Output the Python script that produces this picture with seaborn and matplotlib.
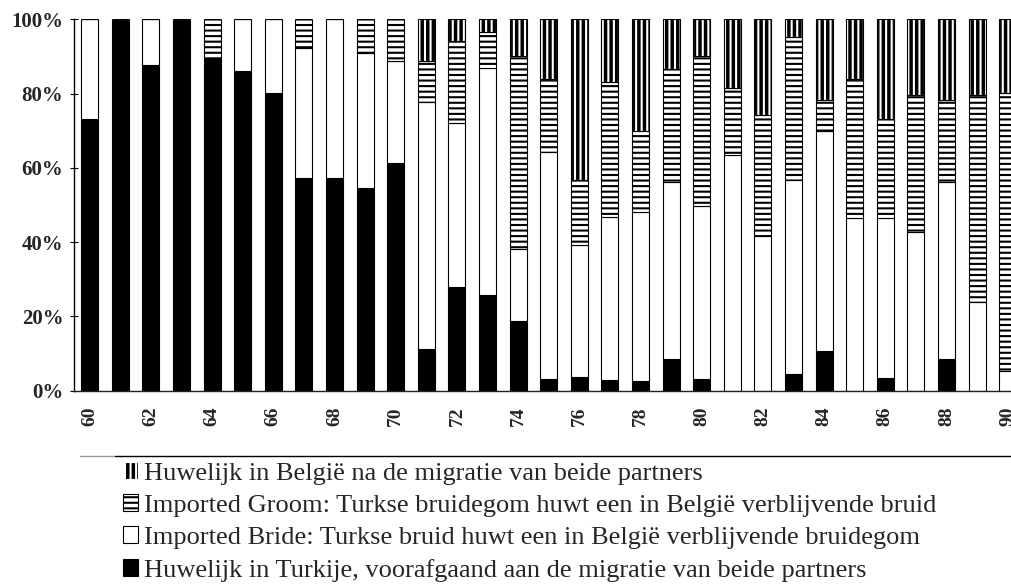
import matplotlib
matplotlib.use("Agg")
import matplotlib.pyplot as plt
from matplotlib.lines import Line2D
from matplotlib.ticker import FixedLocator, PercentFormatter
import numpy as np
import pandas as pd
import seaborn as sns

# aandeel (%) per huwelijkstype, 1960-1990
years = list(range(1960, 1991))
turkey = [73.2, 100, 87.6, 100, 89.7, 86.1, 80.2, 57.2, 57.2, 54.7, 61.3,
          11.2, 27.9, 25.9, 18.9, 3.2, 3.6, 3.0, 2.7, 8.6, 3.2,
          0, 0, 4.5, 10.8, 0, 3.3, 0, 8.6, 0, 0]
bride = [26.8, 0, 12.4, 0, 0, 13.9, 19.8, 35.0, 42.8, 36.1, 27.6,
         66.5, 44.3, 60.9, 19.2, 61.2, 35.5, 43.8, 45.5, 47.5, 46.4,
         63.5, 41.7, 52.3, 59.1, 46.5, 43.2, 42.7, 47.5, 24.0, 5.4]
groom = [0, 0, 0, 0, 10.3, 0, 0, 7.8, 0, 9.2, 11.1,
         11.1, 22.0, 9.9, 52.0, 19.4, 17.7, 36.2, 21.8, 30.4, 40.6,
         18.1, 32.4, 38.3, 8.4, 37.4, 26.6, 36.8, 22.2, 55.6, 74.8]
belgium = [0, 0, 0, 0, 0, 0, 0, 0, 0, 0, 0,
           11.2, 5.8, 3.3, 9.9, 16.2, 43.2, 17.0, 30.0, 13.5, 9.8,
           18.4, 25.9, 4.9, 21.7, 16.1, 26.9, 20.5, 21.7, 20.4, 19.8]

labels = [
    "Huwelijk in België na de migratie van beide partners",
    "Imported Groom: Turkse bruidegom huwt een in België verblijvende bruid",
    "Imported Bride: Turkse bruid huwt een in België verblijvende bruidegom",
    "Huwelijk in Turkije, voorafgaand aan de migratie van beide partners",
]

sns.set_style("white")
plt.rcParams["font.family"] = ["Liberation Serif", "DejaVu Serif"]
plt.rcParams["hatch.linewidth"] = 1.5

df = pd.DataFrame({
    "jaar": [str(y)[2:] for y in years],
    "turkey": turkey,
    "bride": bride,
    "groom": groom,
    "belgium": belgium,
})

W, H = 1011, 586
fig = plt.figure(figsize=(W / 100, H / 100), dpi=100)
ax = fig.add_axes([74.4 / W, 1 - 390.7 / H, 948.6 / W, 371.4 / H])

layers = [
    ("turkey", "black", "black", None),
    ("bride", "white", "black", None),
    ("groom", "white", "black", "---"),
    ("belgium", "black", "white", "|||"),
]
handles = []
bottom = np.zeros(len(years))
for col, face, edge, hatch in layers:
    sns.barplot(data=df, x="jaar", y=col, bottom=bottom, color=face,
                edgecolor=edge, hatch=hatch, linewidth=0.8, width=0.55,
                saturation=1, errorbar=None, ax=ax)
    handles.append(ax.containers[-1])
    if col == "belgium":
        # zwarte omlijning over de gearceerde stukken
        sns.barplot(data=df, x="jaar", y=col, bottom=bottom, color="black",
                    fill=False, linewidth=0.8, width=0.55, errorbar=None, ax=ax)
    bottom = bottom + df[col].to_numpy()

ax.set_xlabel("")
ax.set_ylabel("")
ax.set_ylim(0, 100)
ax.set_yticks(range(0, 101, 20))
ax.yaxis.set_major_formatter(PercentFormatter(100, decimals=0))

ax.set_xticks(range(0, len(years), 2))
ax.set_xticklabels(df["jaar"][::2], rotation=90)
ax.xaxis.set_minor_locator(FixedLocator(np.arange(-0.5, len(years), 1)))
ax.tick_params(axis="x", which="major", length=0, pad=11.5,
               labelsize=14)
ax.tick_params(axis="x", which="minor", direction="inout", length=7,
               width=0.8, color="black")
ax.tick_params(axis="y", direction="inout", length=6, width=0.8, pad=5,
               labelsize=15, color="black", left=True)
for lab in ax.get_xticklabels() + ax.get_yticklabels():
    lab.set_fontweight("bold")

sns.despine(ax=ax)
ax.spines["left"].set_color("black")
ax.spines["left"].set_linewidth(1)
ax.spines["bottom"].set_color("#222222")
ax.spines["bottom"].set_linewidth(1)

fig.legend(handles[::-1], labels, loc="upper left",
           bbox_to_anchor=(123 / W, 1 - 462 / H), frameon=False,
           fontsize=19, handlelength=0.55, handleheight=0.6,
           handletextpad=0.25, labelspacing=0.36, borderpad=0,
           borderaxespad=0)

ly = 1 - 455.5 / H
fig.add_artist(Line2D([80 / W, 115 / W], [ly, ly], color="#999999", lw=1))
fig.add_artist(Line2D([115 / W, 1], [ly, ly], color="black", lw=1))

fig.savefig("out.png", dpi=100)
